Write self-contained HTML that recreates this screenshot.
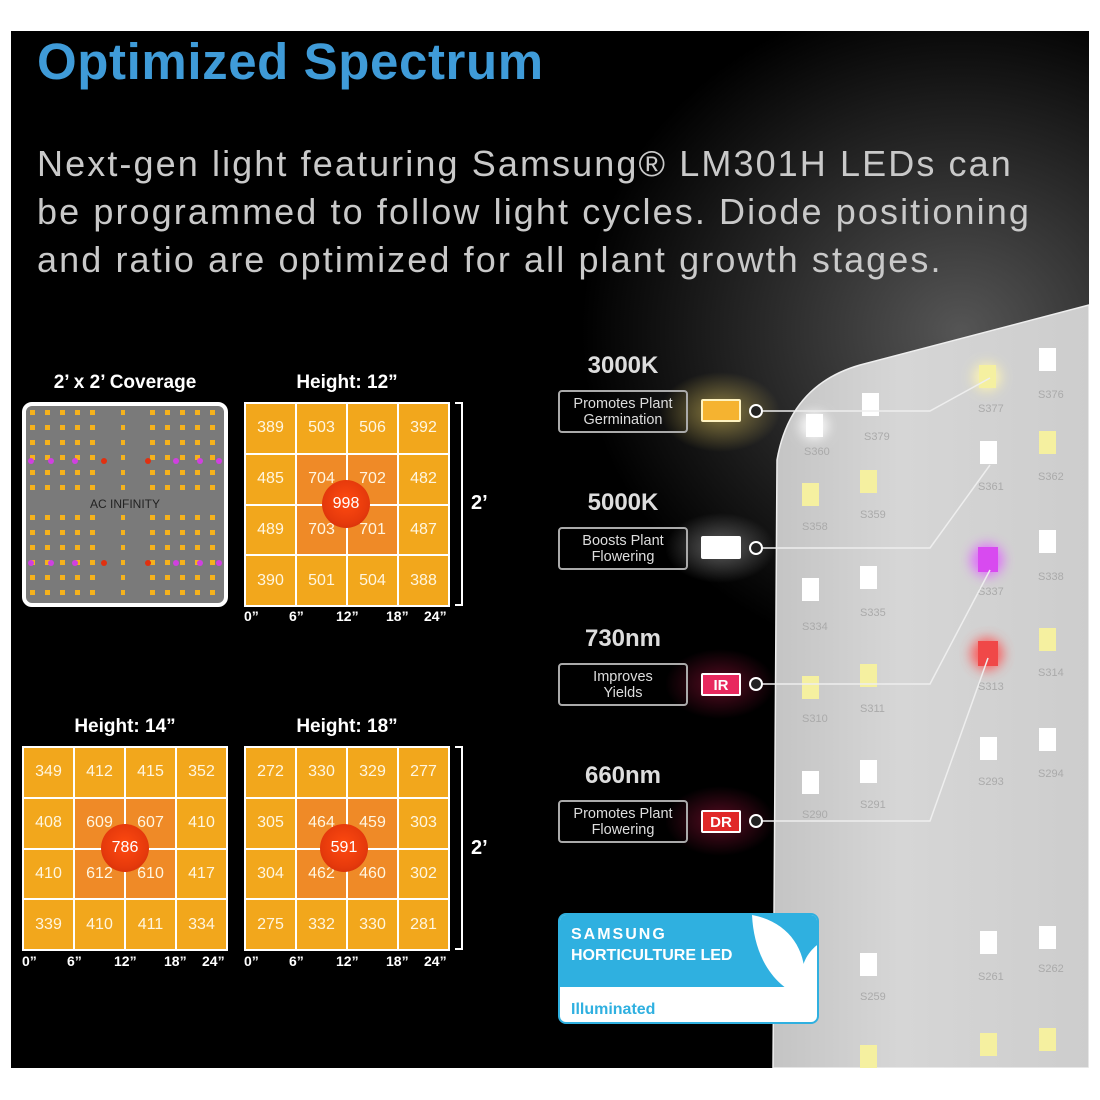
<!DOCTYPE html>
<html><head><meta charset="utf-8"><style>
*{margin:0;padding:0;box-sizing:border-box}
body{width:1100px;height:1100px;background:#fff;position:relative;overflow:hidden;font-family:"Liberation Sans",sans-serif}
#bg{position:absolute;left:11px;top:31px;width:1078px;height:1037px;background:radial-gradient(ellipse 380px 340px at 950px 300px,#555 0%,#2a2a2a 50%,#000 100%);overflow:hidden}
.abs{position:absolute}
h1{position:absolute;left:37px;top:32px;font-size:51px;color:#3f9bd8;font-weight:bold;letter-spacing:0.6px}
.p{position:absolute;left:37px;top:140px;font-size:36px;line-height:48px;color:#c9c9c9;white-space:nowrap;letter-spacing:2.1px}
.t{position:absolute;color:#fff;font-weight:bold;font-size:19px;text-align:center}
.grid{position:absolute;width:206px;height:205px;background:#fff;display:grid;grid-template-columns:repeat(4,1fr);grid-template-rows:repeat(4,1fr);gap:2px;padding:2px}
.grid div{background:#f2a71c;color:#fff6e0;font-size:16px;display:flex;align-items:center;justify-content:center}
.grid div.c{background:#ef8a27}
.dot{position:absolute;width:48px;height:48px;border-radius:50%;background:radial-gradient(circle at 50% 45%,#ff4a10,#e63a0c 60%,#c82a08);color:#fff;font-size:16px;display:flex;align-items:center;justify-content:center}
.ax{position:absolute;color:#fff;font-size:14px;font-weight:bold}
.br{position:absolute;width:8px;border:2px solid #fff;border-left:none}
.k{position:absolute;width:130px;text-align:center;font-weight:bold;font-size:24px;color:#ddd}
.box{position:absolute;left:558px;width:130px;height:43px;border:2px solid #aaa;border-radius:4px;color:#ddd;font-size:14.5px;line-height:16px;text-align:center;padding-top:4px}
.sw{position:absolute;left:701px;width:40px;height:23px;border-radius:2px;color:#fff;font-weight:bold;font-size:15px;text-align:center;line-height:21px}
</style></head><body>
<div id="bg">
<svg class="abs" style="left:0;top:0" width="1078" height="1037" viewBox="11 31 1078 1037">
<defs>
<linearGradient id="pg" x1="0" y1="0" x2="1" y2="0"><stop offset="0" stop-color="#c4c4c4"/><stop offset="0.4" stop-color="#d6d6d6"/><stop offset="1" stop-color="#cdcdcd"/></linearGradient>
<radialGradient id="gy"><stop offset="0" stop-color="#ffe066" stop-opacity=".5"/><stop offset="1" stop-color="#ffe066" stop-opacity="0"/></radialGradient>
<radialGradient id="gw"><stop offset="0" stop-color="#fff" stop-opacity=".35"/><stop offset="1" stop-color="#fff" stop-opacity="0"/></radialGradient>
<radialGradient id="gr"><stop offset="0" stop-color="#ff2060" stop-opacity=".35"/><stop offset="1" stop-color="#ff2060" stop-opacity="0"/></radialGradient>
<filter id="bl" x="-1" y="-1" width="3" height="3"><feGaussianBlur stdDeviation="6"/></filter>
</defs>
<path d="M1089 305 L860 365 Q790 385 777 460 L773 1068 L1089 1068 Z" fill="url(#pg)" stroke="#eee" stroke-width="1.5"/>
<ellipse cx="720" cy="412" rx="60" ry="40" fill="url(#gy)"/>
<ellipse cx="720" cy="548" rx="55" ry="35" fill="url(#gw)"/>
<ellipse cx="720" cy="684" rx="55" ry="35" fill="url(#gr)"/>
<ellipse cx="720" cy="821" rx="55" ry="35" fill="url(#gr)"/>
<g filter="url(#bl)" opacity=".9">
<circle cx="987" cy="560" r="16" fill="#e060ff"/><circle cx="987" cy="654" r="16" fill="#ff5050"/>
<circle cx="987" cy="377" r="14" fill="#fff6b0"/><circle cx="814" cy="426" r="14" fill="#fff"/>
</g>
<g>
<rect x="806" y="414" width="17" height="23" fill="#fff"/>
<rect x="862" y="393" width="17" height="23" fill="#fff"/>
<rect x="979" y="365" width="17" height="23" fill="#f5f0a0"/>
<rect x="1039" y="348" width="17" height="23" fill="#fff"/>
<rect x="980" y="441" width="17" height="23" fill="#fff"/>
<rect x="1039" y="431" width="17" height="23" fill="#f5f0a0"/>
<rect x="802" y="483" width="17" height="23" fill="#f5f0a0"/>
<rect x="860" y="470" width="17" height="23" fill="#f5f0a0"/>
<rect x="978" y="547" width="20" height="25" fill="#d84af0"/>
<rect x="1039" y="530" width="17" height="23" fill="#fff"/>
<rect x="802" y="578" width="17" height="23" fill="#fff"/>
<rect x="860" y="566" width="17" height="23" fill="#fff"/>
<rect x="978" y="641" width="20" height="25" fill="#f04848"/>
<rect x="1039" y="628" width="17" height="23" fill="#f5f0a0"/>
<rect x="802" y="676" width="17" height="23" fill="#f5f0a0"/>
<rect x="860" y="664" width="17" height="23" fill="#f5f0a0"/>
<rect x="802" y="771" width="17" height="23" fill="#fff"/>
<rect x="860" y="760" width="17" height="23" fill="#fff"/>
<rect x="980" y="737" width="17" height="23" fill="#fff"/>
<rect x="1039" y="728" width="17" height="23" fill="#fff"/>
<rect x="860" y="953" width="17" height="23" fill="#fff"/>
<rect x="980" y="931" width="17" height="23" fill="#fff"/>
<rect x="1039" y="926" width="17" height="23" fill="#fff"/>
<rect x="980" y="1033" width="17" height="23" fill="#f5f0a0"/>
<rect x="1039" y="1028" width="17" height="23" fill="#f5f0a0"/>
<rect x="860" y="1045" width="17" height="23" fill="#f5f0a0"/>
</g>
<g fill="#aaa" font-size="11" font-family="Liberation Sans">
<text x="804" y="455">S360</text><text x="864" y="440">S379</text><text x="978" y="412">S377</text><text x="1038" y="398">S376</text>
<text x="978" y="490">S361</text><text x="1038" y="480">S362</text><text x="802" y="530">S358</text><text x="860" y="518">S359</text>
<text x="978" y="595">S337</text><text x="1038" y="580">S338</text><text x="802" y="630">S334</text><text x="860" y="616">S335</text>
<text x="978" y="690">S313</text><text x="1038" y="676">S314</text><text x="802" y="722">S310</text><text x="860" y="712">S311</text>
<text x="802" y="818">S290</text><text x="860" y="808">S291</text><text x="978" y="785">S293</text><text x="1038" y="777">S294</text>
<text x="860" y="1000">S259</text><text x="978" y="980">S261</text><text x="1038" y="972">S262</text>
</g>
<g stroke="#eee" stroke-width="1.5" fill="none">
<polyline points="762,411 930,411 990,378"/>
<polyline points="762,548 930,548 990,465"/>
<polyline points="762,684 930,684 990,570"/>
<polyline points="762,821 930,821 988,658"/>
</g>
<g fill="#222" stroke="#fff" stroke-width="2">
<circle cx="756" cy="411" r="6"/><circle cx="756" cy="548" r="6"/><circle cx="756" cy="684" r="6"/><circle cx="756" cy="821" r="6"/>
</g>
</svg>
</div>
<h1>Optimized Spectrum</h1>
<div class="p">Next-gen light featuring Samsung® LM301H LEDs can<br>be programmed to follow light cycles. Diode positioning<br>and ratio are optimized for all plant growth stages.</div>

<div class="t" style="left:22px;top:372px;width:206px">2’ x 2’ Coverage</div>
<div class="t" style="left:244px;top:372px;width:206px">Height: 12”</div>
<div class="t" style="left:22px;top:716px;width:206px">Height: 14”</div>
<div class="t" style="left:244px;top:716px;width:206px">Height: 18”</div>

<div class="abs" style="left:22px;top:402px;width:206px;height:205px;border:4px solid #fff;border-radius:10px;background:#7a7a7a;overflow:hidden">
<svg width="198" height="197">
<defs><pattern id="lp" width="15" height="15" patternUnits="userSpaceOnUse"><rect x="4" y="4" width="5" height="5" fill="#f5b21c"/></pattern></defs>
<rect x="0" y="0" width="198" height="197" fill="url(#lp)"/>
<rect x="75" y="0" width="20" height="197" fill="#7a7a7a"/><rect x="105" y="0" width="10" height="197" fill="#7a7a7a"/>
<rect x="0" y="88" width="198" height="18" fill="#7a7a7a"/>
<g fill="#d040e0"><circle cx="5" cy="55" r="3"/><circle cx="25" cy="55" r="3"/><circle cx="49" cy="55" r="3"/><circle cx="150" cy="55" r="3"/><circle cx="174" cy="55" r="3"/><circle cx="193" cy="55" r="3"/>
<circle cx="5" cy="157" r="3"/><circle cx="25" cy="157" r="3"/><circle cx="49" cy="157" r="3"/><circle cx="150" cy="157" r="3"/><circle cx="174" cy="157" r="3"/><circle cx="193" cy="157" r="3"/></g>
<g fill="#e03010"><circle cx="78" cy="55" r="3"/><circle cx="122" cy="55" r="3"/><circle cx="78" cy="157" r="3"/><circle cx="122" cy="157" r="3"/></g>
<text x="99" y="102" text-anchor="middle" font-size="12" fill="#222" font-family="Liberation Sans">AC INFINITY</text>
</svg></div>

<div class="grid" style="left:244px;top:402px"><div>389</div><div>503</div><div>506</div><div>392</div><div>485</div><div class="c">704</div><div class="c">702</div><div>482</div><div>489</div><div class="c">703</div><div class="c">701</div><div>487</div><div>390</div><div>501</div><div>504</div><div>388</div></div>
<div class="dot" style="left:322px;top:480px">998</div>
<div class="grid" style="left:22px;top:746px"><div>349</div><div>412</div><div>415</div><div>352</div><div>408</div><div class="c">609</div><div class="c">607</div><div>410</div><div>410</div><div class="c">612</div><div class="c">610</div><div>417</div><div>339</div><div>410</div><div>411</div><div>334</div></div>
<div class="dot" style="left:101px;top:824px">786</div>
<div class="grid" style="left:244px;top:746px"><div>272</div><div>330</div><div>329</div><div>277</div><div>305</div><div class="c">464</div><div class="c">459</div><div>303</div><div>304</div><div class="c">462</div><div class="c">460</div><div>302</div><div>275</div><div>332</div><div>330</div><div>281</div></div>
<div class="dot" style="left:320px;top:824px">591</div>

<div class="ax" style="left:244px;top:608px">0”</div><div class="ax" style="left:289px;top:608px">6”</div><div class="ax" style="left:336px;top:608px">12”</div><div class="ax" style="left:386px;top:608px">18”</div><div class="ax" style="left:424px;top:608px">24”</div>
<div class="ax" style="left:22px;top:953px">0”</div><div class="ax" style="left:67px;top:953px">6”</div><div class="ax" style="left:114px;top:953px">12”</div><div class="ax" style="left:164px;top:953px">18”</div><div class="ax" style="left:202px;top:953px">24”</div>
<div class="ax" style="left:244px;top:953px">0”</div><div class="ax" style="left:289px;top:953px">6”</div><div class="ax" style="left:336px;top:953px">12”</div><div class="ax" style="left:386px;top:953px">18”</div><div class="ax" style="left:424px;top:953px">24”</div>
<div class="br" style="left:455px;top:402px;height:204px"></div>
<div class="br" style="left:455px;top:746px;height:204px"></div>
<div class="t" style="left:471px;top:492px;font-size:20px">2’</div>
<div class="t" style="left:471px;top:837px;font-size:20px">2’</div>

<div class="k" style="left:558px;top:352px">3000K</div>
<div class="box" style="top:390px">Promotes Plant<br>Germination</div>
<div class="sw" style="top:399px;background:#f5b330;border:2px solid #fff3c0"></div>
<div class="k" style="left:558px;top:489px">5000K</div>
<div class="box" style="top:527px">Boosts Plant<br>Flowering</div>
<div class="sw" style="top:536px;background:#fff"></div>
<div class="k" style="left:558px;top:625px">730nm</div>
<div class="box" style="top:663px">Improves<br>Yields</div>
<div class="sw" style="top:673px;background:#e8285e;border:2px solid #fff">IR</div>
<div class="k" style="left:558px;top:762px">660nm</div>
<div class="box" style="top:800px">Promotes Plant<br>Flowering</div>
<div class="sw" style="top:810px;background:#e02828;border:2px solid #fff">DR</div>

<div class="abs" style="left:558px;top:913px;width:261px;height:111px;border-radius:8px;overflow:hidden;background:#fff;border:2px solid #2fb0e0">
<div class="abs" style="left:0;top:0;width:261px;height:72px;background:#2fb0e0"></div>
<svg class="abs" style="left:180px;top:0" width="81" height="90"><path d="M12 0 C55 8 72 45 62 82 C32 70 14 40 12 0Z" fill="#fff"/><path d="M80 28 C62 40 56 62 66 86 L80 86Z" fill="#fff"/></svg>
<div class="abs" style="left:11px;top:11px;color:#fff;font-weight:bold;font-size:16px;letter-spacing:2px">SAMSUNG</div>
<div class="abs" style="left:11px;top:32px;color:#fff;font-weight:bold;font-size:16px">HORTICULTURE LED</div>
<div class="abs" style="left:11px;top:86px;color:#2fb0e0;font-weight:bold;font-size:16px">Illuminated</div>
</div>
</body></html>
